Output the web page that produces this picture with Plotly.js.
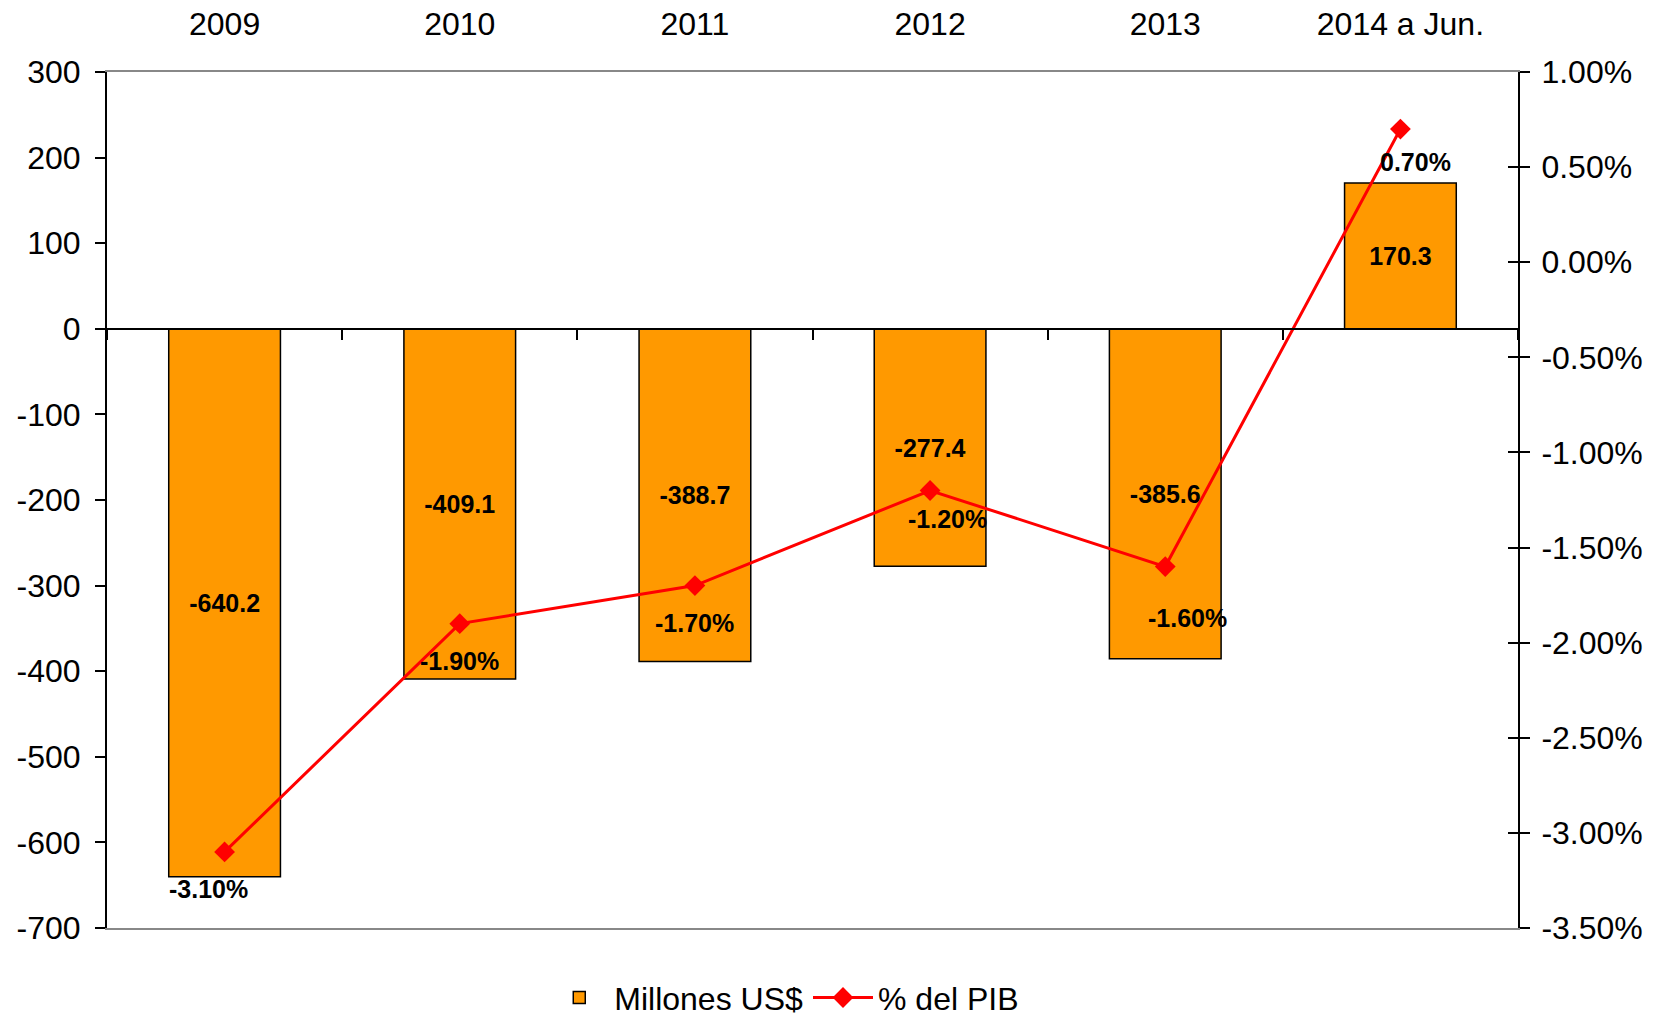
<!DOCTYPE html>
<html>
<head>
<meta charset="utf-8">
<script src="https://cdn.plot.ly/plotly-3.0.1.min.js"></script>
<style>
html,body{margin:0;padding:0;background:#fff;}
#chart{width:1661px;height:1016px;}
</style>
</head>
<body>
<div id="chart"></div>
<script>
const categories = ['2009', '2010', '2011', '2012', '2013', '2014 a Jun.'];
const millonesUSD = [-640.2, -409.1, -388.7, -277.4, -385.6, 170.3];
const pctPIB = [-3.10, -1.90, -1.70, -1.20, -1.60, 0.70];

const leftTickVals = [300, 200, 100, 0, -100, -200, -300, -400, -500, -600, -700];
const leftTickText = ['300', '200', '100', '0', '-100', '-200', '-300', '-400', '-500', '-600', '-700'];
const rightTickVals = [1.0, 0.5, 0.0, -0.5, -1.0, -1.5, -2.0, -2.5, -3.0, -3.5];
const rightTickText = ['1.00%', '0.50%', '0.00%', '-0.50%', '-1.00%', '-1.50%', '-2.00%', '-2.50%', '-3.00%', '-3.50%'];

// label placement style (pixel offsets of the % labels relative to their points)
const pctLabelXShift = [-16, 0, 0, 17, 22, 15];
const pctLabelYShift = [-37, -37, -37, -29, -51, -33];

const FONT = '"Liberation Sans", Arial, sans-serif';
const axisFont = {family: FONT, size: 32, color: '#000'};
const labelFont = {family: FONT, size: 25, color: '#000', weight: 'bold'};

const barTrace = {
  type: 'bar',
  name: 'Millones US$',
  x: categories,
  y: millonesUSD,
  xaxis: 'x', yaxis: 'y',
  marker: {color: '#FF9900', line: {color: '#000', width: 1.5}},
  text: millonesUSD.map(v => '<b>' + v.toFixed(1) + '</b>'),
  textposition: 'inside',
  insidetextanchor: 'middle',
  textangle: 0,
  constraintext: 'none',
  insidetextfont: labelFont,
  hoverinfo: 'skip'
};

const lineTrace = {
  type: 'scatter',
  mode: 'lines+markers',
  name: '% del PIB',
  x: categories,
  y: pctPIB,
  xaxis: 'x', yaxis: 'y2',
  line: {color: '#FF0000', width: 3},
  marker: {symbol: 'diamond', size: 16, color: '#FF0000'},
  hoverinfo: 'skip'
};

// helper traces so the auxiliary axes (zero-line boundary ticks, inner right ticks) exist
const zeroAxisHelper = {
  type: 'scatter', mode: 'none', x: categories, y: millonesUSD,
  xaxis: 'x2', yaxis: 'y', showlegend: false, hoverinfo: 'skip'
};
const rightInnerHelper = {
  type: 'scatter', mode: 'none', x: categories, y: pctPIB,
  xaxis: 'x', yaxis: 'y3', showlegend: false, hoverinfo: 'skip'
};

const annotations = categories.map((c, i) => ({
  x: i, y: pctPIB[i], xref: 'x', yref: 'y2',
  text: '<b>' + pctPIB[i].toFixed(2) + '%</b>',
  showarrow: false,
  xshift: pctLabelXShift[i],
  yshift: pctLabelYShift[i],
  font: labelFont
}));

const layout = {
  width: 1661, height: 1016,
  margin: {l: 107, r: 143, t: 72, b: 88, pad: 0, autoexpand: false},
  paper_bgcolor: '#fff', plot_bgcolor: '#fff',
  font: {family: FONT, size: 32, color: '#000'},
  bargap: 0.525,
  showlegend: true,
  legend: {
    orientation: 'h', x: 0.48, xanchor: 'center',
    yref: 'container', y: 0.018, yanchor: 'middle',
    font: {family: FONT, size: 32, color: '#000'},
    itemwidth: 60,
    traceorder: 'normal'
  },
  xaxis: {
    type: 'category', side: 'top', anchor: 'y',
    categoryorder: 'array', categoryarray: categories,
    range: [-0.5, 5.5],
    showline: true, linecolor: '#888', linewidth: 2, mirror: true,
    ticks: 'outside', ticklen: 22, tickcolor: 'rgba(0,0,0,0)',
    showgrid: false, zeroline: false, tickfont: axisFont, fixedrange: true
  },
  xaxis2: {
    type: 'category', overlaying: 'x', anchor: 'free', position: 0.7, side: 'bottom',
    categoryorder: 'array', categoryarray: categories,
    range: [-0.5, 5.5],
    showline: true, linecolor: '#000', linewidth: 2,
    ticks: 'outside', tickson: 'boundaries', ticklen: 10, tickwidth: 2, tickcolor: '#000',
    showticklabels: false, showgrid: false, zeroline: false
  },
  yaxis: {
    range: [-700, 300], anchor: 'x', side: 'left',
    tickmode: 'array', tickvals: leftTickVals, ticktext: leftTickText,
    ticks: 'outside', ticklen: 10, tickwidth: 2, tickcolor: '#000',
    ticklabelstandoff: 8,
    showline: true, linecolor: '#000', linewidth: 2,
    showgrid: false, zeroline: false, tickfont: axisFont
  },
  yaxis2: {
    range: [-3.5, 1.0], overlaying: 'y', side: 'right', anchor: 'x',
    tickmode: 'array', tickvals: rightTickVals, ticktext: rightTickText,
    ticks: 'outside', ticklen: 10, tickwidth: 2, tickcolor: '#000',
    ticklabelstandoff: 5,
    showline: true, linecolor: '#000', linewidth: 2,
    showgrid: false, zeroline: false, tickfont: axisFont
  },
  yaxis3: {
    range: [-3.5, 1.0], overlaying: 'y', side: 'right', anchor: 'x',
    tickmode: 'array', tickvals: rightTickVals,
    ticks: 'inside', ticklen: 10, tickwidth: 2, tickcolor: '#000',
    showticklabels: false, showline: false, showgrid: false, zeroline: false
  },
  annotations: annotations
};

Plotly.newPlot('chart', [barTrace, lineTrace, zeroAxisHelper, rightInnerHelper], layout, {staticPlot: true, displayModeBar: false});
</script>
</body>
</html>
